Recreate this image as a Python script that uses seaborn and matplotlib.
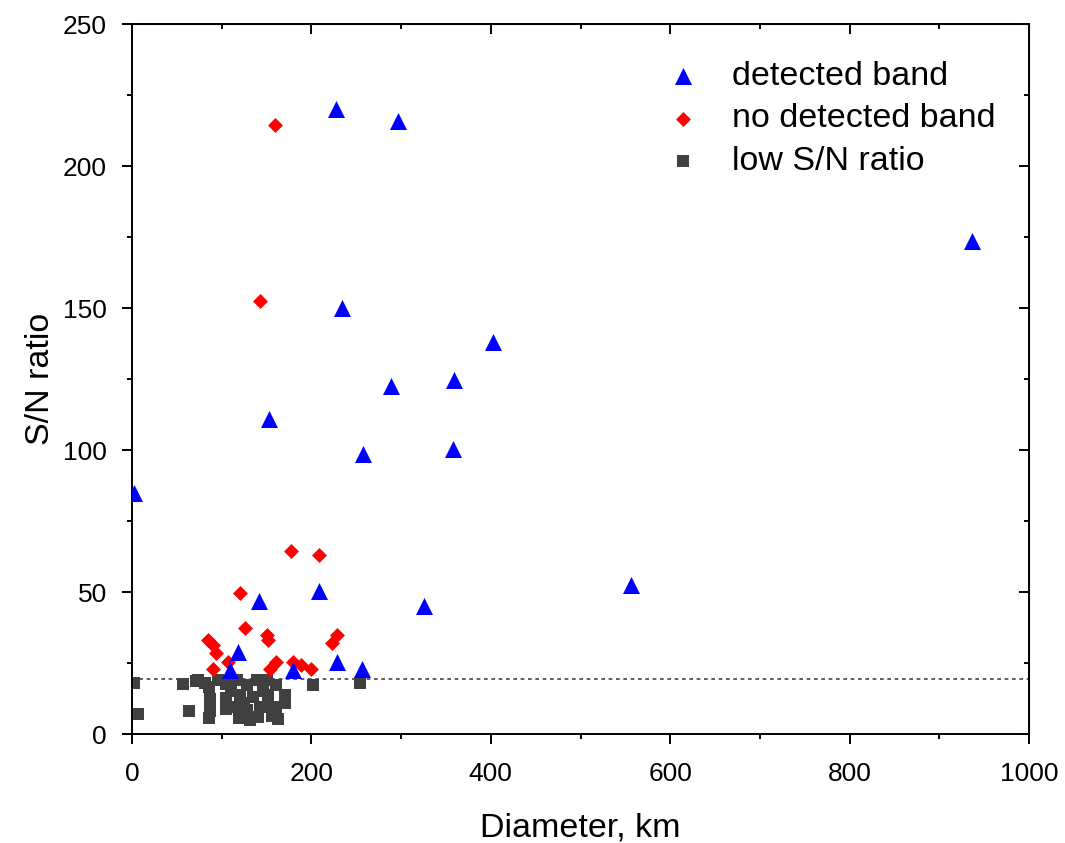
import numpy as np
import pandas as pd
import matplotlib
matplotlib.use("Agg")
import matplotlib.pyplot as plt
import seaborn as sns
from matplotlib.ticker import MultipleLocator

# detected band (blue triangles)
det_x = [2, 109, 118, 142, 153, 179, 208, 227, 228, 234, 256, 257, 289, 297, 326, 358, 359, 402, 556, 936]
det_y = [85, 22.5, 29, 47, 111, 22.5, 50.5, 220, 25.5, 150, 23, 98.5, 122.5, 216, 45, 100.5, 124.5, 138, 52.5, 173.5]

# no detected band (red diamonds)
nd_x = [85, 90, 90, 94, 107, 120, 126, 143, 150, 152, 154, 159, 160, 177, 180, 188, 200, 208, 223, 228]
nd_y = [33, 31.5, 23, 28.5, 25.5, 49.8, 37.3, 152.5, 35, 33.2, 23, 214.5, 25.5, 64.5, 25.5, 24.3, 23, 63, 32, 35]

# low S/N ratio (grey squares)
low_x = [2, 7, 57, 63, 71, 74, 81, 86, 87, 87, 86, 96, 105, 105, 105, 110,
         117, 128, 139, 120, 135, 117, 128, 143, 119, 132, 141, 125, 146,
         150, 161, 171, 152, 161, 150, 171, 163, 156, 202, 254]
low_y = [18, 7, 17.5, 8, 18.5, 19, 17.8, 16.4, 12.3, 8.2, 5.5, 19, 17.5, 12.8, 8.7, 15,
         19, 17.3, 19, 13.7, 13.1, 9.6, 8.5, 9.6, 5.5, 4.9, 6.1, 11, 15,
         19, 17.3, 13.7, 13.7, 9.6, 9.6, 11, 5.2, 6.5, 17.3, 18]

threshold = 19.5

det = pd.DataFrame({"d": det_x, "sn": det_y})
nd = pd.DataFrame({"d": nd_x, "sn": nd_y})
low = pd.DataFrame({"d": low_x, "sn": low_y})

sns.set_style("white")
plt.rcParams["font.family"] = ["Liberation Sans", "DejaVu Sans"]
plt.rcParams["text.color"] = "black"
plt.rcParams["axes.labelcolor"] = "black"
plt.rcParams["xtick.color"] = "black"
plt.rcParams["ytick.color"] = "black"

fig = plt.figure(figsize=(10.65, 8.43), dpi=100)
ax = fig.add_axes([132 / 1065, 1 - 734 / 843, 897 / 1065, 710 / 843])

ax.axhline(threshold, color="#444444", lw=1.2, ls=(0, (2.2, 2.2)), zorder=1)

sns.scatterplot(data=low, x="d", y="sn", marker="s", color="#404040", s=80,
                edgecolor="#404040", linewidth=0, label="low S/N ratio", ax=ax, zorder=2)
sns.scatterplot(data=nd, x="d", y="sn", marker="D", color="#ff0000", s=58,
                edgecolor="#ff0000", linewidth=0, label="no detected band", ax=ax, zorder=3)
sns.scatterplot(data=det, x="d", y="sn", marker="^", color="#0000ff", s=150,
                edgecolor="#0000ff", linewidth=0, label="detected band", ax=ax, zorder=4)

ax.set_xlim(0, 1000)
ax.set_ylim(0, 250)
ax.xaxis.set_major_locator(MultipleLocator(200))
ax.xaxis.set_minor_locator(MultipleLocator(100))
ax.yaxis.set_major_locator(MultipleLocator(50))
ax.yaxis.set_minor_locator(MultipleLocator(25))

for sp in ax.spines.values():
    sp.set_visible(True)
    sp.set_color("black")
    sp.set_linewidth(1.4)

ax.tick_params(which="major", direction="out", length=7, width=1.4, labelsize=19,
               bottom=True, left=True)
ax.tick_params(which="minor", direction="out", length=3.5, width=1.4, bottom=True, left=True)
ax.tick_params(axis="x", which="major", pad=13)
ax.tick_params(axis="y", which="major", pad=11)

# inward ticks on top and right
top = ax.secondary_xaxis("top")
top.xaxis.set_major_locator(MultipleLocator(200))
top.xaxis.set_minor_locator(MultipleLocator(100))
top.tick_params(which="major", direction="in", length=7, width=1.4, labeltop=False)
top.tick_params(which="minor", direction="in", length=3.5, width=1.4)
right = ax.secondary_yaxis("right")
right.yaxis.set_major_locator(MultipleLocator(50))
right.yaxis.set_minor_locator(MultipleLocator(25))
right.tick_params(which="major", direction="in", length=7, width=1.4, labelright=False)
right.tick_params(which="minor", direction="in", length=3.5, width=1.4)

ax.set_xlabel("Diameter, km", fontsize=24.5, labelpad=19)
ax.set_ylabel("S/N ratio", fontsize=24.5, labelpad=5)

handles, labels = ax.get_legend_handles_labels()
order = [2, 1, 0]
ax.legend([handles[i] for i in order], [labels[i] for i in order],
          loc="upper left", bbox_to_anchor=(0.572, 0.972), frameon=False,
          fontsize=24.5, handletextpad=0.85, labelspacing=0.34, handlelength=1.2,
          borderpad=0)

fig.savefig("out.png", dpi=100)
